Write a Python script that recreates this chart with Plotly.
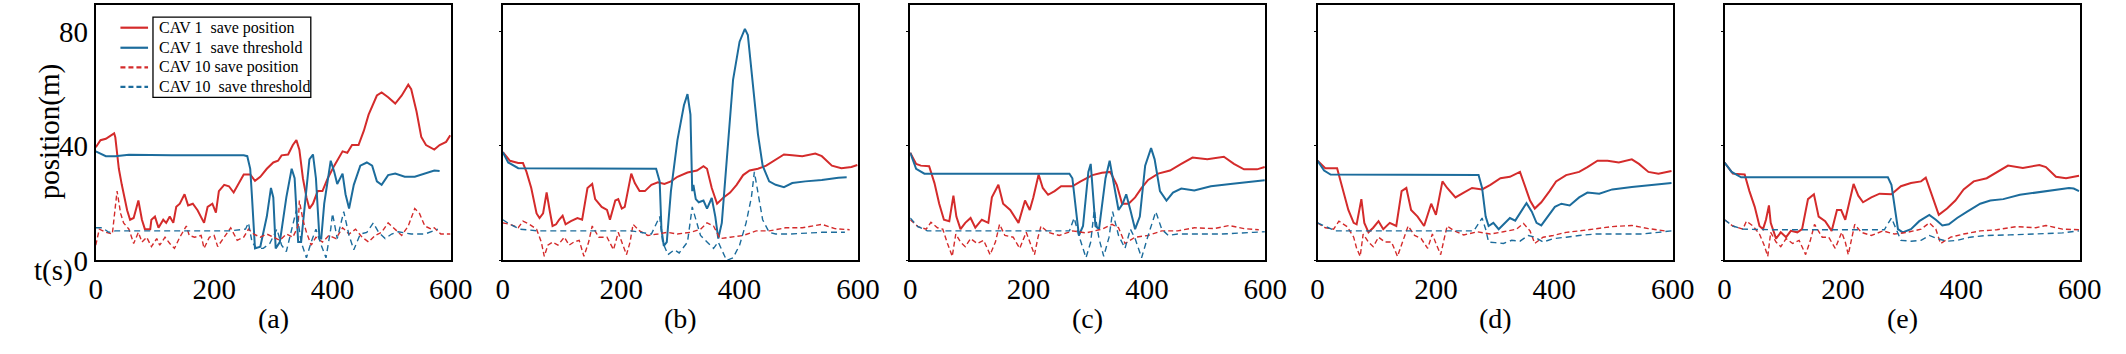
import plotly.graph_objects as go

# ---------------- data ----------------
# Panel (a)
a_pos1_t = [0, 8, 17, 31, 33, 39, 44, 53, 58, 64, 72, 78, 83, 92, 94, 100, 106, 114, 119, 125, 131, 136, 142, 150, 156, 164, 172, 183, 189, 197, 203, 208, 217, 225, 233, 242, 250, 261, 269, 278, 289, 300, 308, 314, 325, 333, 339, 344, 350, 356, 361, 367, 375, 383, 392, 403, 417, 425, 433, 444, 453, 461, 475, 483, 494, 506, 517, 528, 533, 542, 550, 558, 572, 581, 592, 599]
a_pos1_v = [39.5, 42, 42.5, 44.4, 43, 32, 26.4, 17.5, 14.2, 14.8, 20.9, 14.2, 10.9, 10.9, 14.2, 15.3, 11.4, 14.2, 13.1, 15.3, 13.1, 18.7, 19.8, 23.1, 19.2, 19.8, 17.5, 13.1, 18.7, 19.8, 16.7, 24.2, 26.4, 25.9, 23.7, 27, 30, 30, 27.8, 29.2, 32, 34.2, 34.8, 36.7, 37, 40.3, 42, 38.7, 28.7, 22, 18.1, 19.8, 24.2, 24.2, 28.7, 33.1, 38.1, 37.6, 40.3, 40.3, 45.3, 50.9, 57.6, 58.7, 57, 54.8, 57.6, 61.4, 59.8, 52, 43.1, 40.3, 38.7, 40.3, 41.4, 43.7]
a_thr1_t = [0, 17, 33, 56, 128, 250, 256, 261, 264, 267, 269, 278, 289, 296, 300, 304, 311, 322, 331, 336, 342, 347, 353, 361, 367, 372, 378, 381, 386, 397, 403, 408, 417, 422, 428, 436, 447, 458, 467, 475, 483, 494, 506, 522, 539, 556, 572, 581]
a_thr1_v = [38.1, 36.4, 36.4, 36.9, 36.7, 36.7, 36.4, 32, 22, 10.9, 4.2, 4.8, 15.3, 25.3, 22, 4.2, 6.4, 22, 32, 28.7, 6.4, 6.4, 19.8, 35.3, 37, 28.7, 7.6, 7.6, 19.8, 34.8, 30.9, 26.7, 30.3, 23.1, 18.1, 26.4, 33.1, 34.2, 33.1, 27.6, 26.4, 29.8, 30.3, 29.2, 29.2, 30.3, 31.4, 31.2]
a_pos10_t = [0, 6, 17, 28, 33, 36, 42, 47, 56, 64, 72, 78, 86, 94, 103, 108, 117, 125, 133, 142, 153, 158, 167, 178, 183, 192, 200, 206, 217, 228, 239, 250, 258, 267, 278, 289, 300, 311, 322, 333, 342, 344, 350, 356, 364, 372, 383, 394, 406, 417, 428, 439, 450, 461, 472, 483, 494, 506, 517, 528, 539, 547, 556, 567, 572, 583, 599]
a_pos10_v = [5.3, 10.9, 9.8, 9.2, 18.7, 24.2, 16.4, 13.1, 10.9, 5.9, 9.8, 6.4, 8.1, 4.8, 7.6, 5.3, 8.1, 5.9, 4.2, 8.1, 12, 8.7, 8.1, 8.7, 4.2, 8.1, 8.7, 4.8, 8.1, 11.4, 7, 8.1, 10.9, 9.2, 8.1, 9.2, 8.1, 7, 9.2, 8.1, 12, 20.9, 14.2, 9.8, 5.3, 8.1, 6.4, 8.7, 7.6, 11.4, 9.2, 10.9, 8.1, 6.4, 8.7, 9.8, 13.1, 10.9, 8.7, 12, 18.1, 16.4, 12, 10.9, 11.4, 9.2, 9.2]
a_thr10_t = [0, 11, 22, 33, 39, 92, 158, 225, 253, 258, 264, 272, 283, 294, 306, 314, 322, 333, 339, 347, 356, 364, 372, 381, 389, 397, 400, 408, 419, 428, 436, 447, 458, 469, 478, 489, 500, 511, 533, 556, 578]
a_thr10_v = [11.4, 11.4, 9.8, 10.3, 10.3, 10.3, 10.3, 10.3, 10.9, 13.1, 6.4, 4.2, 4.2, 5.9, 10.9, 5.3, 3.1, 13.1, 17.6, 6.4, 0.9, 6.4, 10.9, 5.3, 0.9, 10.9, 16.4, 7.6, 17, 8.7, 3.7, 9.2, 9.8, 13.1, 9.8, 7.6, 9.2, 10, 9.2, 9.2, 10.9]

# Panel (b)
b_pos1_t = [0, 12, 26, 34, 40, 48, 57, 62, 68, 74, 79, 84, 90, 95, 101, 106, 115, 126, 134, 143, 151, 156, 167, 176, 181, 190, 195, 201, 206, 217, 223, 231, 240, 251, 262, 273, 284, 295, 312, 328, 339, 345, 353, 362, 373, 384, 395, 406, 417, 431, 445, 461, 475, 489, 506, 528, 539, 556, 572, 589, 599]
b_pos1_v = [37.8, 34.8, 34, 34, 30.9, 25.3, 16.4, 14.8, 16.4, 23.7, 17.6, 12, 12.6, 14.2, 15.6, 12.6, 13.7, 14.8, 14.2, 25.3, 26.7, 21.4, 18.7, 17.6, 14.2, 20.9, 21.4, 18.1, 18.7, 30.3, 27, 24.2, 24.2, 26.4, 27.3, 26.7, 27.6, 29.2, 30.7, 31.4, 32.9, 32, 25.3, 19.8, 22, 23.7, 26.4, 29.8, 31.4, 32, 33.1, 35.3, 37, 36.7, 36.4, 37.3, 36.4, 33.1, 32.2, 32.6, 33.3]
b_thr1_t = [0, 9, 26, 129, 259, 265, 268, 272, 277, 284, 295, 306, 312, 317, 320, 322, 326, 331, 339, 345, 353, 359, 364, 370, 378, 389, 400, 409, 414, 423, 431, 439, 450, 461, 475, 489, 511, 539, 567, 581]
b_thr1_v = [37.8, 34.2, 32.2, 32.2, 32, 27.6, 10.9, 5.1, 6.4, 24.2, 42, 54.2, 58.1, 50.9, 24.2, 26.4, 21.4, 20.3, 20.9, 18.1, 21.8, 15.3, 7.6, 13.1, 35.3, 63.1, 76.4, 80.9, 78.7, 60.9, 44.2, 33.1, 27.6, 26.4, 25.6, 27, 27.6, 28.1, 28.9, 29]
b_pos10_t = [0, 12, 26, 34, 45, 57, 65, 70, 76, 84, 93, 104, 112, 120, 129, 137, 145, 151, 162, 176, 187, 195, 201, 209, 215, 220, 231, 245, 262, 278, 295, 317, 334, 345, 356, 367, 384, 406, 428, 450, 478, 506, 539, 561, 586]
b_pos10_v = [13.1, 12.6, 11.4, 13.7, 12.6, 10.9, 6.4, 1.4, 5.3, 6.4, 5.3, 8.1, 5.3, 6.4, 7, 1.4, 6.4, 12, 8.1, 8.1, 3.7, 9.8, 6.4, 2, 6.4, 12.6, 10.3, 8.7, 9.2, 9.8, 9.2, 9.8, 10.9, 13.1, 12, 7.6, 8.1, 8.7, 10.3, 10.3, 11.4, 11.4, 12.6, 11.1, 10.7]
b_thr10_t = [0, 12, 29, 59, 217, 251, 265, 270, 279, 290, 298, 312, 320, 326, 334, 345, 356, 364, 373, 378, 389, 400, 411, 420, 425, 431, 439, 450, 461, 484, 539, 578]
b_thr10_v = [14.2, 12.6, 10.9, 10.3, 10.3, 9.2, 15.3, 6.4, 2, 3.7, 2.6, 6.4, 18.7, 14.2, 8.7, 6.4, 4.2, 6.4, 2, 0, 0.9, 5.3, 13.1, 22, 30.9, 24.2, 14.2, 9.8, 9.2, 9.2, 9.8, 9.8]

# Panel (c)
c_pos1_t = [0, 10, 18, 32, 41, 49, 57, 66, 73, 78, 85, 93, 102, 110, 121, 132, 138, 149, 157, 169, 183, 194, 202, 208, 217, 224, 233, 244, 255, 274, 288, 308, 324, 338, 349, 358, 369, 380, 391, 402, 419, 439, 458, 477, 502, 530, 547, 564, 586, 599]
c_pos1_v = [37.6, 33.7, 33.1, 32.9, 27, 19.8, 14.2, 13.7, 22.6, 15.3, 10.9, 13.1, 14.8, 11.4, 14.2, 13.1, 22, 26.4, 19.8, 17.6, 13.1, 20.9, 17.6, 22, 30, 25.3, 22.9, 24.2, 25.9, 25.9, 27.6, 29.8, 30.6, 30.9, 26.4, 19.8, 19.8, 22, 25.3, 28.1, 30.3, 31.4, 33.7, 35.9, 35.3, 36.2, 33.7, 31.8, 31.8, 32.6]
c_thr1_t = [0, 10, 24, 107, 269, 274, 280, 285, 292, 301, 305, 309, 313, 319, 330, 337, 344, 352, 359, 365, 372, 380, 388, 397, 407, 413, 422, 433, 444, 458, 480, 508, 541, 575, 599]
c_thr1_v = [37.6, 32, 30.3, 30.3, 30.3, 28.7, 18.7, 8.7, 12, 30.9, 33.7, 24.2, 12, 10.9, 28.7, 34.8, 26.4, 17.6, 19.8, 23.1, 17.6, 10.9, 15.3, 33.1, 39.2, 35.3, 24.2, 20.9, 23.7, 25.1, 24.4, 25.9, 26.7, 27.6, 28]
c_pos10_t = [0, 13, 27, 35, 46, 55, 63, 71, 77, 85, 93, 102, 113, 124, 135, 144, 151, 160, 174, 185, 196, 202, 210, 216, 221, 233, 252, 274, 297, 324, 341, 352, 363, 380, 402, 425, 452, 480, 514, 539, 564, 589]
c_pos10_v = [14.2, 11.8, 10.9, 13.3, 11.4, 10.9, 5.9, 1.4, 9.2, 6.4, 4.8, 7.6, 5.9, 7, 2, 6.4, 12.6, 8.7, 8.1, 4.2, 9.8, 6.4, 2, 8.1, 12, 9.8, 8.7, 10.3, 9.6, 10.9, 12.6, 11.4, 5.9, 8.1, 8.7, 10.3, 10.3, 11.4, 11.1, 12.2, 11.1, 10.7]
c_thr10_t = [0, 13, 29, 49, 269, 277, 285, 297, 305, 311, 319, 327, 336, 342, 352, 363, 372, 380, 391, 402, 415, 425, 436, 452, 475, 525, 580, 599]
c_thr10_v = [14.8, 11.8, 10.3, 10.3, 10.3, 14.8, 8.7, 0.9, 6.4, 17.6, 7.6, 1.4, 8.1, 17, 8.7, 4.2, 10.9, 7.6, 0.9, 8.7, 17, 10.9, 8.7, 9.2, 9.2, 9.2, 9.8, 10]

# Panel (d)
d_pos1_t = [0, 13, 33, 41, 52, 61, 66, 74, 79, 86, 94, 103, 111, 122, 133, 142, 150, 158, 169, 180, 192, 200, 211, 219, 233, 247, 261, 278, 292, 309, 325, 342, 350, 359, 367, 378, 392, 403, 420, 442, 456, 473, 490, 509, 531, 543, 559, 576, 598]
d_pos1_v = [34.8, 32.2, 32.2, 26.4, 17.6, 13.1, 12.6, 21.4, 13.1, 9.8, 11.4, 13.7, 10.9, 13.1, 12, 24.2, 25.3, 17.6, 15.3, 12, 19.8, 15.9, 27.6, 25.3, 22, 23.7, 25.3, 24.8, 26.4, 28.7, 29.2, 30.9, 26.4, 20.9, 18.1, 20.3, 24.2, 27.6, 29.8, 30.9, 32.6, 34.8, 34.8, 34.2, 35.3, 33.7, 30.9, 30.3, 31.2]
d_thr1_t = [0, 11, 22, 253, 272, 278, 284, 289, 297, 306, 314, 325, 334, 342, 353, 362, 370, 378, 389, 401, 412, 426, 442, 456, 476, 498, 531, 565, 598]
d_thr1_v = [34.8, 31.4, 30, 30, 29.8, 25.3, 15.3, 12, 13.1, 10.9, 12.6, 14.8, 13.9, 16.4, 20, 17, 13.1, 12.2, 15.3, 18.7, 19.8, 19.2, 22, 23.7, 23.3, 24.8, 25.6, 26.4, 27]
d_pos10_t = [0, 13, 27, 36, 50, 61, 66, 72, 77, 86, 94, 103, 114, 125, 135, 144, 153, 164, 175, 186, 194, 200, 208, 214, 219, 231, 247, 270, 292, 314, 336, 348, 359, 367, 381, 398, 420, 442, 470, 498, 531, 559, 587]
d_pos10_v = [13.1, 11.4, 10.9, 13.7, 11.8, 8.1, 4.2, 1.4, 9.2, 6.4, 4.8, 8.1, 6.4, 6.4, 1.4, 6.4, 12, 8.7, 7.6, 4.2, 9.2, 5.9, 2, 7.6, 12, 10.3, 8.9, 10, 9.2, 10, 10.9, 12.9, 10.3, 5.9, 8.1, 8.7, 9.8, 10.3, 11.1, 11.8, 12.2, 11.1, 10.3]
d_thr10_t = [0, 13, 30, 264, 278, 284, 289, 300, 314, 328, 342, 356, 367, 381, 398, 420, 442, 470, 509, 548, 576, 598]
d_thr10_v = [13.1, 11.8, 10.3, 10.3, 14.8, 10.9, 6.4, 6.2, 5.9, 7, 6.7, 8.7, 8.1, 6.4, 7.6, 8.1, 8.7, 9.2, 9.2, 9.2, 9.8, 10.3]

# Panel (e)
e_pos1_t = [0, 14, 34, 42, 51, 59, 65, 70, 75, 78, 87, 95, 104, 112, 123, 131, 141, 151, 159, 170, 181, 190, 197, 204, 218, 226, 234, 248, 262, 282, 298, 315, 332, 340, 348, 357, 362, 376, 390, 404, 421, 443, 460, 479, 504, 532, 543, 560, 577, 599]
e_pos1_v = [34.2, 30.3, 30, 24.2, 18.7, 12, 10.9, 14.2, 19.2, 13.1, 7.6, 9.8, 8.1, 10.3, 9.8, 10.9, 21.4, 23.1, 15.3, 13.7, 10.3, 17.6, 17.6, 14.2, 26.7, 22.6, 20.3, 22, 23.3, 23.1, 25.9, 27, 27.6, 28.9, 24.2, 18.7, 15.9, 18.1, 20.9, 24.8, 27.6, 28.7, 30.9, 33.1, 32.3, 33.3, 32.6, 29.2, 28.7, 29.6]
e_thr1_t = [0, 12, 28, 154, 276, 282, 287, 293, 301, 315, 329, 346, 357, 368, 379, 393, 410, 432, 449, 471, 499, 526, 554, 582, 590, 599]
e_thr1_v = [34.2, 30.9, 29, 29, 29, 26.4, 18.7, 10.9, 9.8, 10.9, 13.7, 15.9, 14.2, 12.2, 12.6, 14.8, 17, 19.8, 20.9, 21.4, 22.9, 23.7, 24.4, 25.3, 25.1, 24.2]
e_pos10_t = [0, 14, 31, 37, 48, 59, 67, 73, 78, 87, 95, 104, 115, 126, 137, 145, 152, 165, 176, 187, 198, 204, 209, 215, 220, 231, 248, 268, 287, 309, 332, 346, 357, 365, 382, 404, 432, 460, 493, 526, 543, 571, 599]
e_pos10_v = [14.2, 12, 10.9, 13.7, 12, 9.2, 5.3, 1.4, 9.8, 6.4, 4.8, 7.6, 5.9, 7, 2, 7, 12.6, 8.1, 8.1, 4.2, 9.8, 6.4, 2, 7.6, 12.6, 9.8, 8.7, 10.3, 9.2, 9.8, 10.9, 13.1, 10.9, 5.9, 8.1, 9.2, 10.3, 10.7, 11.8, 11.4, 12.2, 10.9, 10.7]
e_thr10_t = [0, 14, 31, 81, 270, 282, 290, 298, 315, 332, 346, 359, 376, 393, 415, 443, 482, 515, 571, 599]
e_thr10_v = [14.2, 12, 10.9, 10.7, 10.7, 14.8, 10.9, 7, 6.7, 7, 8.7, 7.6, 6.7, 7, 8.1, 8.7, 8.9, 9.2, 9.6, 10.3]

panel_labels = ["(a)", "(b)", "(c)", "(d)", "(e)"]
series_names = ["CAV 1\u00a0\u00a0save position", "CAV 1\u00a0\u00a0save threshold",
                "CAV 10 save position", "CAV 10\u00a0\u00a0save threshold"]
x_ticks = [0, 200, 400, 600]
y_ticks = [0, 40, 80]

panels = [
    (a_pos1_t, a_pos1_v, a_thr1_t, a_thr1_v, a_pos10_t, a_pos10_v, a_thr10_t, a_thr10_v),
    (b_pos1_t, b_pos1_v, b_thr1_t, b_thr1_v, b_pos10_t, b_pos10_v, b_thr10_t, b_thr10_v),
    (c_pos1_t, c_pos1_v, c_thr1_t, c_thr1_v, c_pos10_t, c_pos10_v, c_thr10_t, c_thr10_v),
    (d_pos1_t, d_pos1_v, d_thr1_t, d_thr1_v, d_pos10_t, d_pos10_v, d_thr10_t, d_thr10_v),
    (e_pos1_t, e_pos1_v, e_thr1_t, e_thr1_v, e_pos10_t, e_pos10_v, e_thr10_t, e_thr10_v),
]

# ---------------- styling ----------------
RED = "#d42b2b"
BLUE = "#1c6c9c"
FONT = "Liberation Serif"
W, H = 2126, 354
left_px = [90, 502.7, 915.7, 1328.7, 1741.3]
panel_w = 360
y_dom = [(354 - 272.7) / 354, (354 - 5) / 354]

styles = [
    dict(color=RED, width=2, dash="solid"),
    dict(color=BLUE, width=2, dash="solid"),
    dict(color=RED, width=1.4, dash="5px,3px"),
    dict(color=BLUE, width=1.4, dash="6px,4px"),
]

fig = go.Figure()
for i, p in enumerate(panels):
    xa = "x" if i == 0 else f"x{i+1}"
    ya = "y" if i == 0 else f"y{i+1}"
    for k in range(4):
        fig.add_trace(go.Scatter(
            x=p[2 * k], y=p[2 * k + 1], mode="lines",
            line=styles[k], name=series_names[k],
            showlegend=False, xaxis=xa, yaxis=ya,
            hoverinfo="skip"))

layout = dict(
    width=W, height=H, margin=dict(l=0, r=0, t=0, b=0),
    paper_bgcolor="white", plot_bgcolor="white",
    font=dict(family=FONT, color="black"),
    showlegend=False,
)
for i in range(5):
    xk = "xaxis" if i == 0 else f"xaxis{i+1}"
    yk = "yaxis" if i == 0 else f"yaxis{i+1}"
    x0 = left_px[i] / W
    x1 = (left_px[i] + panel_w) / W
    layout[xk] = dict(domain=[x0, x1], range=[0, 600], anchor="y" if i == 0 else f"y{i+1}",
                      tickvals=x_ticks, ticks="", showgrid=False, zeroline=False,
                      showline=True, mirror=True, linecolor="black", linewidth=2,
                      ticklabelstandoff=2,
                      tickfont=dict(family=FONT, size=29, color="black"))
    layout[yk] = dict(domain=y_dom, range=[0, 89.3], anchor="x" if i == 0 else f"x{i+1}",
                      tickvals=y_ticks, showgrid=False, zeroline=False,
                      showline=True, mirror=True, linecolor="black", linewidth=2,
                      ticks="" if i == 0 else "outside", ticklen=2, tickcolor="black",
                      showticklabels=(i == 0),
                      tickfont=dict(family=FONT, size=29, color="black"))
fig.update_layout(**layout)

# legend (drawn as key samples + labels + frame, inside panel (a))
legend_rows_px = [29, 50, 70.5, 91]
for k, yy in enumerate(legend_rows_px):
    fig.add_shape(type="line", xref="paper", yref="paper",
                  x0=115 / W, x1=143 / W, y0=1 - yy / H, y1=1 - yy / H,
                  line=dict(color=styles[k]["color"], width=2.2,
                            dash="solid" if styles[k]["dash"] == "solid" else "5px,3px"))
    fig.add_annotation(text=series_names[k], xref="paper", yref="paper",
                       x=152 / W, y=1 - yy / H, showarrow=False,
                       xanchor="left", yanchor="middle",
                       font=dict(family=FONT, size=16, color="black"))
fig.add_shape(type="rect", xref="paper", yref="paper",
              x0=148 / W, x1=308 / W, y0=1 - 102 / H, y1=1 - 18 / H,
              line=dict(color="black", width=1.3), fillcolor="rgba(0,0,0,0)")

# panel labels
for i, lab in enumerate(panel_labels):
    fig.add_annotation(text=lab, xref="paper", yref="paper",
                       x=(left_px[i] + panel_w / 2) / W, y=1 - 334 / H,
                       showarrow=False, font=dict(family=FONT, size=28, color="black"),
                       xanchor="center", yanchor="middle")

fig.add_annotation(text="position(m)", xref="paper", yref="paper",
                   x=43 / W, y=1 - 138 / H, textangle=-90, showarrow=False,
                   font=dict(family=FONT, size=29, color="black"),
                   xanchor="center", yanchor="middle")
fig.add_annotation(text="t(s)", xref="paper", yref="paper",
                   x=47 / W, y=1 - 283 / H, showarrow=False,
                   font=dict(family=FONT, size=29, color="black"),
                   xanchor="center", yanchor="middle")

fig.write_html("out.html", config={"displayModeBar": False},
               post_script="document.body.style.margin='0';document.body.style.overflow='hidden';")
